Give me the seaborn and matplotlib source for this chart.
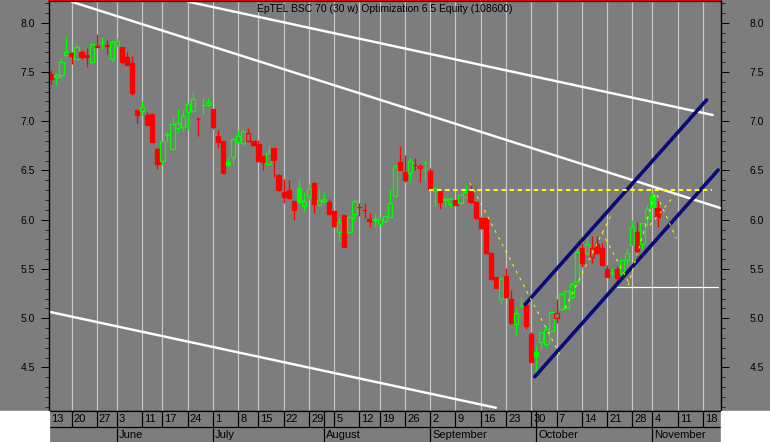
#!/usr/bin/env python3

# import packages
import numpy as np
import pandas as pd
import seaborn as sns
import matplotlib.pyplot as plt
from matplotlib import transforms
from matplotlib.patches import Rectangle

# daily bars (index 0 = first session shown, Tue 14 May)
opens = [7.48, 7.445, 7.47, 7.67, 7.69, 7.63, 7.70, 7.675, 7.60, 7.765,
         7.80, 7.77, 7.63, 7.77, 7.75, 7.65, 7.59, 7.11, 7.105, 7.06,
         7.07, 6.72, 6.60, 6.86, 6.715, 6.935, 6.94, 7.09, 7.105, 7.02,
         7.16, 7.165, 7.12, 6.85, 6.80, 6.585, 6.635, 6.79, 6.78, 6.80,
         6.80, 6.77, 6.645, 6.57, 6.725, 6.455, 6.28, 6.30, 6.185, 6.32,
         6.14, 6.24, 6.37, 6.15, 6.185, 6.175, 6.09, 5.88, 6.05, 5.87,
         6.055, 6.125, 6.10, 6.005, 6.00, 5.955, 5.99, 6.025, 6.24, 6.59,
         6.48, 6.47, 6.555, 6.52, 6.585, 6.495, 6.29, 6.29, 6.215, 6.16,
         6.195, 6.165, 6.235, 6.295, 6.175, 6.02, 6.015, 5.66, 5.415, 5.19,
         5.43, 5.19, 4.94, 5.12, 5.135, 4.84, 4.66, 4.76, 4.74, 4.87,
         5.00, 5.09, 5.10, 5.215, 5.37, 5.71, 5.66, 5.625, 5.755, 5.71,
         5.495, 5.46, 5.495, 5.445, 5.59, 5.745, 5.88, 5.75, 6.015, 6.24,
         6.115]
highs = [7.52, 7.49, 7.64, 7.85, 7.70, 7.78, 7.72, 7.74, 7.79, 7.885,
         7.85, 7.82, 7.82, 7.84, 7.75, 7.70, 7.66, 7.11, 7.20, 7.09,
         7.07, 6.725, 6.80, 6.89, 7.045, 7.12, 7.11, 7.18, 7.30, 7.04,
         7.24, 7.24, 7.12, 6.915, 6.80, 6.63, 6.825, 6.91, 6.915, 6.935,
         6.80, 6.81, 6.645, 6.75, 6.725, 6.46, 6.41, 6.40, 6.185, 6.41,
         6.285, 6.36, 6.385, 6.31, 6.27, 6.215, 6.09, 6.02, 6.05, 6.05,
         6.20, 6.165, 6.165, 6.065, 6.055, 6.03, 6.05, 6.31, 6.555, 6.75,
         6.655, 6.625, 6.625, 6.57, 6.59, 6.52, 6.33, 6.29, 6.23, 6.235,
         6.195, 6.27, 6.35, 6.37, 6.175, 6.03, 6.015, 5.66, 5.42, 5.405,
         5.505, 5.285, 5.10, 5.225, 5.135, 4.865, 4.72, 4.865, 4.93, 5.075,
         5.20, 5.255, 5.28, 5.37, 5.76, 5.76, 5.83, 5.835, 5.83, 5.76,
         5.54, 5.51, 5.53, 5.59, 5.71, 6.00, 5.98, 5.97, 6.15, 6.27,
         6.185]
lows = [7.38, 7.37, 7.435, 7.665, 7.58, 7.62, 7.63, 7.55, 7.59, 7.755,
        7.73, 7.68, 7.61, 7.76, 7.59, 7.57, 7.27, 6.985, 7.06, 6.96,
        6.79, 6.51, 6.555, 6.80, 6.71, 6.89, 6.905, 6.91, 7.105, 6.85,
        7.07, 7.14, 6.92, 6.74, 6.47, 6.54, 6.58, 6.785, 6.75, 6.79,
        6.75, 6.59, 6.505, 6.565, 6.43, 6.295, 6.165, 6.215, 6.00, 6.17,
        6.09, 6.20, 6.07, 6.14, 6.165, 6.055, 5.93, 5.78, 5.725, 5.86,
        6.00, 6.04, 6.015, 5.93, 5.93, 5.945, 5.965, 6.025, 6.235, 6.505,
        6.385, 6.385, 6.505, 6.385, 6.40, 6.30, 6.13, 6.11, 6.13, 6.125,
        6.15, 6.165, 6.235, 6.17, 6.005, 5.91, 5.65, 5.39, 5.31, 5.145,
        5.21, 4.945, 4.83, 5.115, 4.895, 4.56, 4.42, 4.70, 4.71, 4.865,
        4.95, 5.08, 5.10, 5.20, 5.36, 5.52, 5.64, 5.565, 5.655, 5.54,
        5.415, 5.42, 5.38, 5.39, 5.52, 5.745, 5.63, 5.69, 5.93, 6.125,
        5.93]
closes = [7.43, 7.47, 7.60, 7.70, 7.66, 7.75, 7.655, 7.65, 7.78, 7.755,
          7.80, 7.765, 7.80, 7.815, 7.60, 7.57, 7.29, 7.06, 7.14, 6.96,
          6.79, 6.57, 6.80, 6.865, 6.97, 6.98, 7.05, 7.17, 7.23, 7.02,
          7.16, 7.195, 6.945, 6.79, 6.47, 6.555, 6.82, 6.85, 6.90, 6.885,
          6.755, 6.60, 6.585, 6.675, 6.605, 6.30, 6.235, 6.225, 6.10, 6.175,
          6.185, 6.31, 6.155, 6.20, 6.215, 6.06, 5.935, 5.98, 5.725, 6.03,
          6.185, 6.125, 6.10, 5.99, 6.00, 6.01, 6.04, 6.165, 6.54, 6.505,
          6.405, 6.595, 6.555, 6.545, 6.585, 6.31, 6.325, 6.175, 6.195, 6.21,
          6.15, 6.25, 6.285, 6.175, 6.015, 5.92, 5.66, 5.395, 5.31, 5.405,
          5.22, 4.955, 5.05, 5.125, 4.92, 4.56, 4.62, 4.865, 4.895, 5.065,
          5.05, 5.25, 5.275, 5.345, 5.675, 5.565, 5.755, 5.71, 5.66, 5.54,
          5.415, 5.46, 5.405, 5.59, 5.665, 5.93, 5.685, 5.965, 6.105, 6.125,
          6.025]

# date axis: first session of each week, and first session of each month
week_days = ['13', '20', '27', '3', '11', '17', '24', '1', '8', '15', '22', '29',
             '5', '12', '19', '26', '2', '9', '16', '23', '30', '7', '14', '21',
             '28', '4', '11', '18']
week_idx = [-1, 4, 9, 13, 18, 22, 27, 32, 37, 41, 46, 51,
            56, 61, 65, 70, 75, 80, 85, 90, 95, 100, 105, 110,
            115, 119, 124, 129]
months = ['June', 'July', 'August', 'September', 'October', 'November']
month_idx = [13, 32, 54, 75, 96, 119]

# drawn studies (session index, price)
white_top_x, white_top_y = [27.1, 130.9], [8.213, 7.063]
white_mid_x, white_mid_y = [4.0, 132.4], [8.213, 6.119]
white_bot_x, white_bot_y = [-0.5, 88.0], [5.066, 4.091]
blue_up_x, blue_up_y = [93.8, 129.7], [5.141, 7.215]
blue_lo_x, blue_lo_y = [95.7, 132.0], [4.406, 6.505]
resist_x, resist_y = [74.8, 130.7], [6.30, 6.30]
support_x, support_y = [112.0, 132.0], [5.314, 5.314]
zigzag = [([82.9, 100.7], [6.373, 4.627]),
          ([101.7, 111.0], [5.103, 6.067]),
          ([109.0, 114.6], [5.875, 5.335]),
          ([114.2, 119.5], [5.335, 6.279]),
          ([119.9, 123.7], [6.250, 5.810]),
          ([118.5, 123.7], [5.944, 6.270])]

title = 'EpTEL BSC 70 (30 w) Optimization 6.5 Equity (108600)'

# style
sns.set_style('white')
plt.rcParams['font.family'] = ['Liberation Sans', 'DejaVu Sans']
plt.rcParams['lines.scale_dashes'] = False
bg = '#7d7d7d'
up, down = '#00ff00', '#ff0000'
px = 0.72  # one pixel in points

df = pd.DataFrame({'open': opens, 'high': highs, 'low': lows, 'close': closes})
df['x'] = np.arange(len(df))
prev = df['close'].shift(1).fillna(df['open'])
df['col'] = np.where(df['close'] >= prev, up, down)
df['face'] = np.where(df['close'] < df['open'], df['col'], bg)
df['bot'] = df[['open', 'close']].min(axis=1)
df['hgt'] = (df['close'] - df['open']).abs().clip(lower=0.002)

W, H = 770, 442
fig = plt.figure(figsize=(W / 100, H / 100), dpi=100, facecolor=bg)
L, R, B, T = 48.7 / W, 720.7 / W, 31 / H, 1 / H
fig.patches.append(Rectangle((0, 0), L, B, transform=fig.transFigure, color='white', zorder=0))
fig.patches.append(Rectangle((R, 0), 1 - R, B, transform=fig.transFigure, color='white', zorder=0))

ax = fig.add_axes([L, B, R - L, 1 - T - B])
ax.set_facecolor(bg)
xmin, xmax = -0.515, 132.5
ymin, ymax = 4.058, 8.22
ax.set_xlim(xmin, xmax)
ax.set_ylim(ymin, ymax)

# weekly grid
ax.vlines([i for i in week_idx if i > xmin], ymin, ymax, colors='#c8c8c8', lw=1.2 * px, zorder=0)

# candles
ax.vlines(df['x'], df['low'], df['high'], colors=df['col'], lw=1.3 * px, zorder=2)
ax.bar(df['x'], df['hgt'], bottom=df['bot'], width=0.85, color=df['face'],
       edgecolor=df['col'], linewidth=1.3 * px, zorder=3)

# studies
for xs, ys, c, lw in [(white_top_x, white_top_y, 'white', 2.4),
                      (white_mid_x, white_mid_y, 'white', 2.4),
                      (white_bot_x, white_bot_y, 'white', 2.4),
                      (blue_up_x, blue_up_y, '#0a0a78', 3.6),
                      (blue_lo_x, blue_lo_y, '#0a0a78', 3.6)]:
    sns.lineplot(x=xs, y=ys, ax=ax, color=c, linewidth=lw * px, sort=False,
                 estimator=None, zorder=4)
sns.lineplot(x=support_x, y=support_y, ax=ax, color='white', linewidth=1.2 * px,
             estimator=None, zorder=4)
sns.lineplot(x=resist_x, y=resist_y, ax=ax, color='#ffff00', linewidth=2 * px,
             linestyle=(0, (3.2, 2.6)), estimator=None, zorder=4)
for xs, ys in zigzag:
    sns.lineplot(x=xs, y=ys, ax=ax, color='#ffff00', linewidth=1 * px,
                 linestyle=(0, (2.0, 3.5)), sort=False, estimator=None, zorder=4)

# price axes, both sides
ax.set_xticks([])
for a, side in [(ax, 'left'), (ax.twinx(), 'right')]:
    a.set_ylim(ymin, ymax)
    a.set_yticks(np.arange(4.5, 8.01, 0.5))
    a.set_yticks(np.arange(4.1, 8.21, 0.1), minor=True)
    a.set_yticklabels(['%.1f' % v for v in np.arange(4.5, 8.01, 0.5)])
    a.tick_params(axis='y', which='major', length=8 * px, width=px, direction='out',
                  labelsize=7.5, colors='black', pad=4 if side == 'left' else 15,
                  left=side == 'left', right=side == 'right',
                  labelleft=side == 'left', labelright=side == 'right')
    a.tick_params(axis='y', which='minor', length=4 * px, width=px, direction='out',
                  left=side == 'left', right=side == 'right')
    for s in a.spines.values():
        s.set_color('black')
        s.set_linewidth(1.2 * px)
ax.spines['top'].set_color('red')
ax.spines['top'].set_linewidth(2 * px)
ax.grid(False)

# title
fig.text(385 / W, 1 - 9.5 / H, title, ha='center', va='center', fontsize=7.5, color='black')

# date band: week numbers over month names
bx = fig.add_axes([L, 0, R - L, B])
bx.set_facecolor(bg)
bx.set_xlim(xmin, xmax)
bx.set_ylim(0, 2)
bx.set_xticks([])
bx.set_yticks([])
for s in ['right', 'bottom']:
    bx.spines[s].set_visible(False)
for s in ['left', 'top']:
    bx.spines[s].set_color('black')
    bx.spines[s].set_linewidth(1.2 * px)
bx.hlines(1, xmin, xmax, colors='black', lw=1.2 * px)
seps = sorted(set(i for i in week_idx + month_idx if i > xmin))
bx.vlines(seps, 1, 2, colors='black', lw=1.2 * px, zorder=3)
bx.vlines(month_idx, 0, 1, colors='black', lw=1.2 * px, zorder=3)
off = bx.transData + transforms.ScaledTranslation(2 / 100, 0, fig.dpi_scale_trans)
for d, i in zip(week_days, week_idx):
    bx.text(max(i, xmin), 1.48, d, transform=off, ha='left', va='center',
            fontsize=8, color='black', zorder=2, clip_on=True)
for m, i in zip(months, month_idx):
    bx.text(i, 0.45, m, transform=off, ha='left', va='center',
            fontsize=8, color='black', zorder=2, clip_on=True)

plt.savefig('out.png', dpi=100, facecolor=fig.get_facecolor())
